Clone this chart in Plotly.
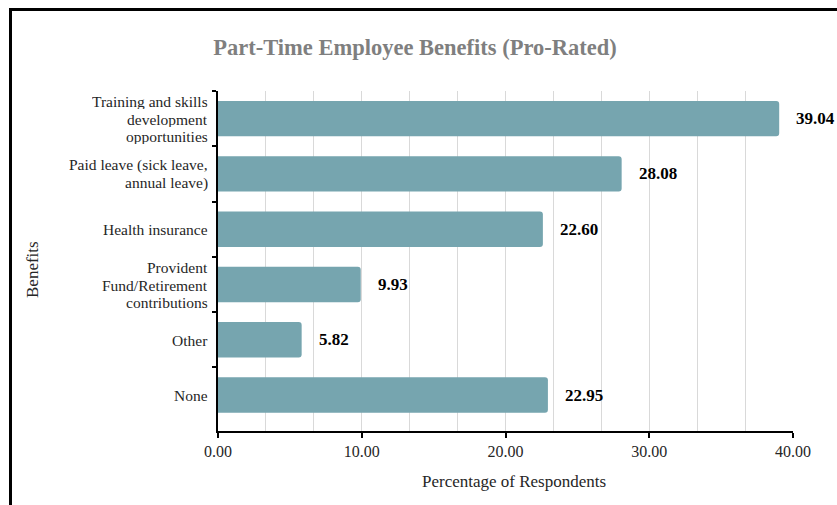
import plotly.graph_objects as go

# Survey results: share of respondents reporting each pro-rated benefit
benefits = [
    "Training and skills<br>development<br>opportunities",
    "Paid leave (sick leave,<br>annual leave)",
    "Health insurance",
    "Provident<br>Fund/Retirement<br>contributions",
    "Other",
    "None",
]
percentages = [39.04, 28.08, 22.60, 9.93, 5.82, 22.95]
x_ticks = [0, 10, 20, 30, 40]

W, H = 837, 505
ML, MR, MT, MB = 218, 44, 91, 74
PW, PH = W - ML - MR, H - MT - MB

SERIF = "Liberation Serif, Times New Roman, serif"
BAR_COLOR = "#76A5AF"
TEXT_COLOR = "#262626"
LABEL_SIZE = 15.5
TITLE_SIZE = 17
LINE_STEP = 17.2  # vertical spacing between wrapped category label lines

fig = go.Figure(
    go.Bar(
        x=percentages,
        y=benefits,
        orientation="h",
        marker=dict(color=BAR_COLOR, line=dict(width=0), cornerradius=3),
        width=0.64,
        hoverinfo="skip",
    )
)

# value labels to the right of each bar
for cat, val in zip(benefits, percentages):
    fig.add_annotation(
        x=val, y=cat, xref="x", yref="y",
        text=f"<b>{val:.2f}</b>", showarrow=False,
        xanchor="left", yanchor="middle", xshift=15,
        font=dict(family=SERIF, size=17, color="#000000"),
    )

# category labels, one annotation per wrapped line for tight line spacing
for cat in benefits:
    lines = cat.split("<br>")
    n = len(lines)
    for k, line in enumerate(lines):
        fig.add_annotation(
            x=0, y=cat, xref="paper", yref="y",
            text=line, showarrow=False, height=16,
            xanchor="right", yanchor="middle", xshift=-8,
            yshift=((n - 1) / 2 - k) * LINE_STEP,
            font=dict(family=SERIF, size=LABEL_SIZE, color=TEXT_COLOR),
        )

def px_to_paper_x(px):
    return (px - ML) / PW

def px_to_paper_y(py):
    return (H - MB - py) / PH

# axis titles
fig.add_annotation(
    x=px_to_paper_x(32), y=px_to_paper_y(270), xref="paper", yref="paper",
    text="Benefits", textangle=-90, showarrow=False,
    xanchor="center", yanchor="middle",
    font=dict(family=SERIF, size=TITLE_SIZE, color=TEXT_COLOR),
)
fig.add_annotation(
    x=px_to_paper_x(514), y=px_to_paper_y(481), xref="paper", yref="paper",
    text="Percentage of Respondents", showarrow=False,
    xanchor="center", yanchor="middle",
    font=dict(family=SERIF, size=TITLE_SIZE, color=TEXT_COLOR),
)

# outer frame
fig.add_shape(
    type="rect", xref="paper", yref="paper",
    x0=px_to_paper_x(10.5), x1=px_to_paper_x(860),
    y0=px_to_paper_y(530), y1=px_to_paper_y(9.5),
    line=dict(color="#000000", width=3), fillcolor="rgba(0,0,0,0)",
    layer="above",
)

fig.update_layout(
    width=W, height=H,
    margin=dict(l=ML, r=MR, t=MT, b=MB, autoexpand=False),
    paper_bgcolor="white", plot_bgcolor="white",
    showlegend=False,
    title=dict(
        text="<b>Part-Time Employee Benefits (Pro-Rated)</b>",
        x=415 / W, xref="container", xanchor="center",
        y=1 - 47 / H, yref="container", yanchor="middle",
        font=dict(family=SERIF, size=22.5, color="#7F7F7F"),
    ),
    font=dict(family=SERIF, size=LABEL_SIZE, color=TEXT_COLOR),
    xaxis=dict(
        range=[0, 40],
        tickvals=x_ticks,
        ticktext=[f"{v:.2f}" for v in x_ticks],
        showgrid=True, gridcolor="#D9D9D9", gridwidth=1,
        minor=dict(dtick=10 / 3, tick0=0, showgrid=True,
                   gridcolor="#D9D9D9", gridwidth=1, ticks=""),
        showline=True, linecolor="#000000", linewidth=1.5,
        ticks="outside", ticklen=5, tickcolor="#000000", tickwidth=1.5,
        tickfont=dict(family=SERIF, size=16, color=TEXT_COLOR),
        zeroline=False, fixedrange=True,
    ),
    yaxis=dict(
        categoryorder="array", categoryarray=benefits,
        range=[5.65, -0.5],
        showgrid=False,
        showline=True, linecolor="#000000", linewidth=1.5,
        ticks="outside", tickson="boundaries", ticklen=4,
        tickcolor="#000000", tickwidth=1.5,
        showticklabels=False,
        zeroline=False, fixedrange=True,
    ),
)

fig.write_html("out.html")
